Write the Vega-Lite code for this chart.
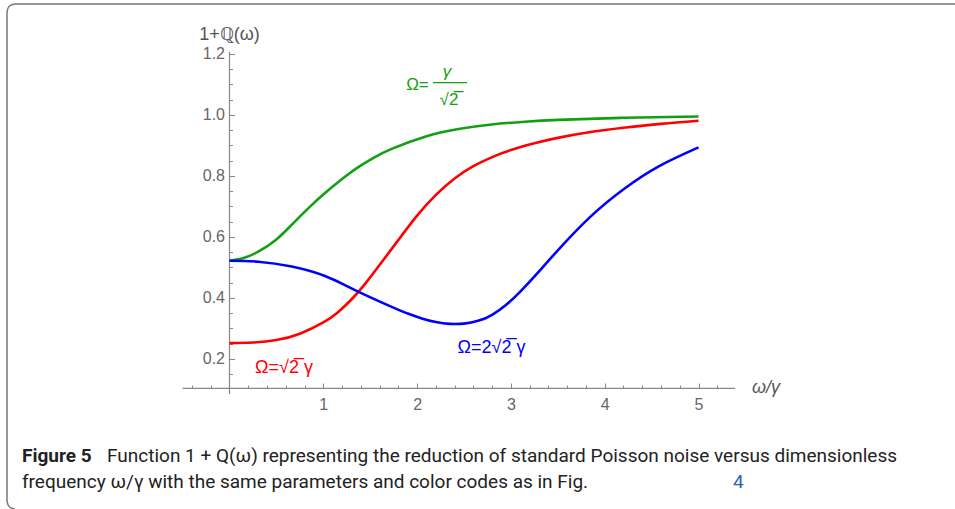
{
 "$schema": "https://vega.github.io/schema/vega-lite/v6.json",
 "width": 955, "height": 509, "autosize": "none", "padding": 0,
 "background": "white",
 "config": {"view": {"stroke": null}},
 "datasets": {
  "curves": [
   {"s":"g","x":0,"y":0.522},{"s":"g","x":0.15,"y":0.531},{"s":"g","x":0.307,"y":0.552},{"s":"g","x":0.5,"y":0.592},{"s":"g","x":0.663,"y":0.640},{"s":"g","x":0.85,"y":0.697},{"s":"g","x":1.018,"y":0.744},{"s":"g","x":1.2,"y":0.790},{"s":"g","x":1.373,"y":0.829},{"s":"g","x":1.55,"y":0.862},{"s":"g","x":1.729,"y":0.889},{"s":"g","x":2.084,"y":0.929},{"s":"g","x":2.44,"y":0.954},{"s":"g","x":2.795,"y":0.969},{"s":"g","x":3.15,"y":0.978},{"s":"g","x":3.505,"y":0.984},{"s":"g","x":4.216,"y":0.991},{"s":"g","x":5.0,"y":0.995},
   {"s":"r","x":0,"y":0.252},{"s":"r","x":0.25,"y":0.254},{"s":"r","x":0.5,"y":0.262},{"s":"r","x":0.75,"y":0.283},{"s":"r","x":1.0,"y":0.320},{"s":"r","x":1.15,"y":0.352},{"s":"r","x":1.3,"y":0.395},{"s":"r","x":1.45,"y":0.448},{"s":"r","x":1.6,"y":0.508},{"s":"r","x":1.8,"y":0.590},{"s":"r","x":2.0,"y":0.670},{"s":"r","x":2.2,"y":0.738},{"s":"r","x":2.4,"y":0.792},{"s":"r","x":2.6,"y":0.832},{"s":"r","x":2.8,"y":0.862},{"s":"r","x":3.0,"y":0.885},{"s":"r","x":3.25,"y":0.907},{"s":"r","x":3.5,"y":0.925},{"s":"r","x":3.85,"y":0.944},{"s":"r","x":4.2,"y":0.958},{"s":"r","x":4.6,"y":0.971},{"s":"r","x":5.0,"y":0.981},
   {"s":"b","x":0,"y":0.522},{"s":"b","x":0.307,"y":0.519},{"s":"b","x":0.663,"y":0.503},{"s":"b","x":1.018,"y":0.472},{"s":"b","x":1.338,"y":0.426},{"s":"b","x":1.729,"y":0.371},{"s":"b","x":1.9,"y":0.349},{"s":"b","x":2.05,"y":0.333},{"s":"b","x":2.2,"y":0.321},{"s":"b","x":2.35,"y":0.315},{"s":"b","x":2.5,"y":0.316},{"s":"b","x":2.65,"y":0.325},{"s":"b","x":2.8,"y":0.345},{"s":"b","x":2.95,"y":0.378},{"s":"b","x":3.1,"y":0.421},{"s":"b","x":3.3,"y":0.487},{"s":"b","x":3.505,"y":0.558},{"s":"b","x":3.86,"y":0.670},{"s":"b","x":4.216,"y":0.760},{"s":"b","x":4.571,"y":0.831},{"s":"b","x":5.0,"y":0.894}
  ],
  "axislines": [
   {"x":-0.5,"x2":5.39,"y":0.104,"y2":0.104},
   {"x":0,"x2":0,"y":0.085,"y2":1.207}
  ],
  "framerules": [
   {"x":-2.3721,"x2":-2.3721,"y":1.3377,"y2":-0.2656},
   {"x":-2.2868,"x2":7.7345,"y":1.3639,"y2":1.3639}
  ],
  "corners": [
   {"c":"tl","x":-2.3721,"y":1.3377},{"c":"tl","x":-2.3607,"y":1.3508},{"c":"tl","x":-2.3294,"y":1.3604},{"c":"tl","x":-2.2868,"y":1.3639},
   {"c":"bl","x":-2.3721,"y":-0.2656},{"c":"bl","x":-2.3607,"y":-0.2787},{"c":"bl","x":-2.3294,"y":-0.2883},{"c":"bl","x":-2.2868,"y":-0.2918}
  ],
  "ytitle": [{"x":0,"y":1.262,"t":"1+ℚ(ω)"}],
  "xtitle": [{"x":5.57,"y":0.104,"t":"ω/γ"}],
  "greenplain": [{"x":2.004,"y":1.098,"t":"Ω="},{"x":2.340,"y":1.049,"t":"√2̅"}],
  "greenital": [{"x":2.319,"y":1.140,"t":"γ"}],
  "greenbar": [{"x":2.170,"x2":2.532,"y":1.106,"y2":1.106}],
  "redlabel": [{"x":0.581,"y":0.172,"t":"Ω=√2̅ γ"}],
  "bluelabel": [{"x":2.793,"y":0.236,"t":"Ω=2√2̅ γ"}],
  "capbold": [{"x":-2.2121,"y":-0.118,"t":"Figure 5"}],
  "capplain": [
   {"x":-1.306,"y":-0.118,"t":"Function 1 + Q(ω) representing the reduction of standard Poisson noise versus dimensionless"},
   {"x":-2.2121,"y":-0.2033,"t":"frequency ω/γ with the same parameters and color codes as in Fig."}
  ],
  "capblue": [{"x":5.3678,"y":-0.2033,"t":"4"}]
 },
 "layer": [
  {
   "data": {"name": "framerules"},
   "mark": {"type": "rule", "color": "#777", "strokeWidth": 1.5},
   "encoding": {
    "x": {"field": "x", "type": "quantitative", "scale": {"domain": [-2.4467, 7.7345], "nice": false, "zero": false}, "axis": null},
    "x2": {"field": "x2"},
    "y": {"field": "y", "type": "quantitative", "scale": {"domain": [-0.2918, 1.377], "nice": false, "zero": false}, "axis": null},
    "y2": {"field": "y2"}
   }
  },
  {
   "data": {"name": "corners"},
   "mark": {"type": "line", "color": "#777", "strokeWidth": 1.5, "interpolate": "monotone"},
   "encoding": {
    "x": {"field": "x", "type": "quantitative", "scale": {"domain": [-2.4467, 7.7345], "nice": false, "zero": false}, "axis": null},
    "y": {"field": "y", "type": "quantitative", "scale": {"domain": [-0.2918, 1.377], "nice": false, "zero": false}, "axis": null},
    "detail": {"field": "c", "type": "nominal"}
   }
  },
  {
   "data": {"name": "axislines"},
   "mark": {"type": "rule", "color": "#888", "strokeWidth": 1.2},
   "encoding": {
    "x": {"field": "x", "type": "quantitative", "scale": {"domain": [-2.4467, 7.7345], "nice": false, "zero": false},
     "axis": {"orient": "bottom", "offset": -121, "values": [1,2,3,4,5], "format": "d", "ticks": false, "domain": false, "grid": false, "title": null, "labelPadding": 8, "labelFont": "Liberation Sans", "labelFontSize": 16, "labelColor": "#666", "labelOverlap": false, "labelFlush": false}},
    "x2": {"field": "x2"},
    "y": {"field": "y", "type": "quantitative", "scale": {"domain": [-0.2918, 1.377], "nice": false, "zero": false},
     "axis": {"orient": "left", "offset": -229.5, "values": [0.2,0.4,0.6,0.8,1,1.2], "format": ".1f", "ticks": false, "domain": false, "grid": false, "title": null, "labelPadding": 5, "labelFont": "Liberation Sans", "labelFontSize": 16, "labelColor": "#666", "labelOverlap": false, "labelFlush": false}},
    "y2": {"field": "y2"}
   }
  },
  {
   "data": {"name": "curves"},
   "mark": {"type": "line", "interpolate": "natural", "strokeWidth": 2.6},
   "encoding": {
    "x": {"field": "x", "type": "quantitative", "scale": {"domain": [-2.4467, 7.7345], "nice": false, "zero": false},
     "axis": {"orient": "top", "offset": -388, "values": [-0.4,-0.2,0.2,0.4,0.6,0.8,1,1.2,1.4,1.6,1.8,2,2.2,2.4,2.6,2.8,3,3.2,3.4,3.6,3.8,4,4.2,4.4,4.6,4.8,5,5.2], "labels": false, "domain": false, "grid": false, "title": null, "tickColor": "#888", "tickWidth": 1,
      "tickSize": {"condition": {"test": "abs(datum.value - round(datum.value)) < 0.001", "value": 5}, "value": 3}}},
    "y": {"field": "y", "type": "quantitative", "scale": {"domain": [-0.2918, 1.377], "nice": false, "zero": false},
     "axis": {"orient": "right", "offset": -725.5, "values": [0.15,0.2,0.25,0.3,0.35,0.4,0.45,0.5,0.55,0.6,0.65,0.7,0.75,0.8,0.85,0.9,0.95,1,1.05,1.1,1.15,1.2], "labels": false, "domain": false, "grid": false, "title": null, "tickColor": "#888", "tickWidth": 1,
      "tickSize": {"condition": {"test": "abs(datum.value*5 - round(datum.value*5)) < 0.001", "value": 5}, "value": 3}}},
    "color": {"field": "s", "type": "nominal", "scale": {"domain": ["g","r","b"], "range": ["#12a012","#ff0000","#0000ff"]}, "legend": null}
   }
  },
  {
   "data": {"name": "ytitle"},
   "mark": {"type": "text", "font": "Liberation Sans", "fontSize": 18, "color": "#555", "align": "center", "baseline": "middle"},
   "encoding": {
    "x": {"field": "x", "type": "quantitative", "scale": {"domain": [-2.4467, 7.7345], "nice": false, "zero": false}, "axis": null},
    "y": {"field": "y", "type": "quantitative", "scale": {"domain": [-0.2918, 1.377], "nice": false, "zero": false}, "axis": null},
    "text": {"field": "t"}
   }
  },
  {
   "data": {"name": "xtitle"},
   "mark": {"type": "text", "font": "Liberation Sans", "fontSize": 18, "fontStyle": "italic", "color": "#555", "align": "left", "baseline": "middle"},
   "encoding": {
    "x": {"field": "x", "type": "quantitative", "scale": {"domain": [-2.4467, 7.7345], "nice": false, "zero": false}, "axis": null},
    "y": {"field": "y", "type": "quantitative", "scale": {"domain": [-0.2918, 1.377], "nice": false, "zero": false}, "axis": null},
    "text": {"field": "t"}
   }
  },
  {
   "data": {"name": "greenplain"},
   "mark": {"type": "text", "font": "Liberation Sans", "fontSize": 17, "color": "#12a012", "align": "center", "baseline": "middle"},
   "encoding": {
    "x": {"field": "x", "type": "quantitative", "scale": {"domain": [-2.4467, 7.7345], "nice": false, "zero": false}, "axis": null},
    "y": {"field": "y", "type": "quantitative", "scale": {"domain": [-0.2918, 1.377], "nice": false, "zero": false}, "axis": null},
    "text": {"field": "t"}
   }
  },
  {
   "data": {"name": "greenital"},
   "mark": {"type": "text", "font": "Liberation Sans", "fontSize": 17, "fontStyle": "italic", "color": "#12a012", "align": "center", "baseline": "middle"},
   "encoding": {
    "x": {"field": "x", "type": "quantitative", "scale": {"domain": [-2.4467, 7.7345], "nice": false, "zero": false}, "axis": null},
    "y": {"field": "y", "type": "quantitative", "scale": {"domain": [-0.2918, 1.377], "nice": false, "zero": false}, "axis": null},
    "text": {"field": "t"}
   }
  },
  {
   "data": {"name": "greenbar"},
   "mark": {"type": "rule", "color": "#12a012", "strokeWidth": 1.3},
   "encoding": {
    "x": {"field": "x", "type": "quantitative", "scale": {"domain": [-2.4467, 7.7345], "nice": false, "zero": false}, "axis": null},
    "x2": {"field": "x2"},
    "y": {"field": "y", "type": "quantitative", "scale": {"domain": [-0.2918, 1.377], "nice": false, "zero": false}, "axis": null},
    "y2": {"field": "y2"}
   }
  },
  {
   "data": {"name": "redlabel"},
   "mark": {"type": "text", "font": "Liberation Sans", "fontSize": 18, "color": "#ff0000", "align": "center", "baseline": "middle"},
   "encoding": {
    "x": {"field": "x", "type": "quantitative", "scale": {"domain": [-2.4467, 7.7345], "nice": false, "zero": false}, "axis": null},
    "y": {"field": "y", "type": "quantitative", "scale": {"domain": [-0.2918, 1.377], "nice": false, "zero": false}, "axis": null},
    "text": {"field": "t"}
   }
  },
  {
   "data": {"name": "bluelabel"},
   "mark": {"type": "text", "font": "Liberation Sans", "fontSize": 18, "color": "#0000ff", "align": "center", "baseline": "middle"},
   "encoding": {
    "x": {"field": "x", "type": "quantitative", "scale": {"domain": [-2.4467, 7.7345], "nice": false, "zero": false}, "axis": null},
    "y": {"field": "y", "type": "quantitative", "scale": {"domain": [-0.2918, 1.377], "nice": false, "zero": false}, "axis": null},
    "text": {"field": "t"}
   }
  },
  {
   "data": {"name": "capbold"},
   "mark": {"type": "text", "font": "Roboto", "fontSize": 19, "fontWeight": "bold", "color": "#222", "align": "left", "baseline": "middle"},
   "encoding": {
    "x": {"field": "x", "type": "quantitative", "scale": {"domain": [-2.4467, 7.7345], "nice": false, "zero": false}, "axis": null},
    "y": {"field": "y", "type": "quantitative", "scale": {"domain": [-0.2918, 1.377], "nice": false, "zero": false}, "axis": null},
    "text": {"field": "t"}
   }
  },
  {
   "data": {"name": "capplain"},
   "mark": {"type": "text", "font": "Roboto", "fontSize": 19, "color": "#222", "align": "left", "baseline": "middle"},
   "encoding": {
    "x": {"field": "x", "type": "quantitative", "scale": {"domain": [-2.4467, 7.7345], "nice": false, "zero": false}, "axis": null},
    "y": {"field": "y", "type": "quantitative", "scale": {"domain": [-0.2918, 1.377], "nice": false, "zero": false}, "axis": null},
    "text": {"field": "t"}
   }
  },
  {
   "data": {"name": "capblue"},
   "mark": {"type": "text", "font": "Roboto", "fontSize": 19, "color": "#2d5fb8", "align": "left", "baseline": "middle"},
   "encoding": {
    "x": {"field": "x", "type": "quantitative", "scale": {"domain": [-2.4467, 7.7345], "nice": false, "zero": false}, "axis": null},
    "y": {"field": "y", "type": "quantitative", "scale": {"domain": [-0.2918, 1.377], "nice": false, "zero": false}, "axis": null},
    "text": {"field": "t"}
   }
  }
 ],
 "resolve": {"axis": {"x": "independent", "y": "independent"}}
}
